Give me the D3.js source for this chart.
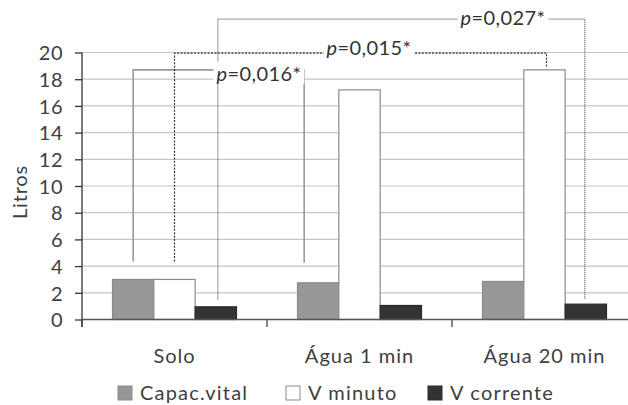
<!DOCTYPE html>
<html><head><meta charset="utf-8">
<script src="https://cdn.jsdelivr.net/npm/d3@7"></script>
<style>html,body{margin:0;padding:0;background:#fff;overflow:hidden}</style>
</head><body>
<svg id="c" width="628" height="405"></svg>
<script>
const categories = ["Solo", "Água 1 min", "Água 20 min"];
const seriesNames = ["Capac.vital", "V minuto", "V corrente"];
const capacVital = [3.0, 2.75, 2.85];
const vMinuto = [3.0, 17.2, 18.7];
const vCorrente = [0.95, 1.05, 1.15];
const yTicks = [0, 2, 4, 6, 8, 10, 12, 14, 16, 18, 20];
const seriesValues = [capacVital, vMinuto, vCorrente];
const seriesColors = ["#979797", "#ffffff", "#333333"];
const seriesStroke = ["#8a8a8a", "#8a8a8a", "#2a2a2a"];
// significance brackets: endpoints given as category/series, heights in litres
const brackets = [
  {label: "0,016*", from: [0, 0, 0], to: [1, 0, -14], level: 18.7, bottomFrom: 4.35, bottomTo: 4.25, style: "solid"},
  {label: "0,015*", from: [0, 1, 0], to: [2, 1, 2], level: 19.95, bottomFrom: 4.35, bottomTo: 18.95, style: "dash"},
  {label: "0,027*", from: [0, 2, 2], to: [2, 2, -1], level: 22.5, bottomFrom: 1.5, bottomTo: 1.5, style: "dot"}
];
const labelCenters = [259, 369, 503];
const labelDy = [11, 2, 6];

const svg = d3.select("#c");
const font = "Lato, 'Open Sans', sans-serif";
const textFill = "#404040";
const x0 = d3.scaleBand().domain(categories).range([82, 637]).padding(0);
const x1 = d3.scaleBand().domain(seriesNames).range([30.5, 154.5]).padding(0);
const y = d3.scaleLinear().domain([0, 20]).range([319.5, 52.5]);

// gridlines
svg.append("g").selectAll("line").data(yTicks.filter(d => d > 0)).join("line")
  .attr("x1", 82).attr("x2", 637).attr("y1", d => y(d)).attr("y2", d => y(d))
  .attr("stroke", "#c6c6c6").attr("stroke-width", 1.2);

// bars
const groups = svg.append("g").selectAll("g").data(categories).join("g")
  .attr("transform", d => `translate(${x0(d)},0)`);
groups.selectAll("rect").data((c, i) => seriesNames.map((s, j) => ({s, j, v: seriesValues[j][i]}))).join("rect")
  .attr("x", d => x1(d.s)).attr("width", x1.bandwidth())
  .attr("y", d => y(d.v)).attr("height", d => y(0) - y(d.v))
  .attr("fill", d => seriesColors[d.j]).attr("stroke", d => seriesStroke[d.j]).attr("stroke-width", 1.2);

// axes
const yAxis = d3.axisLeft(y).tickValues(yTicks).tickSize(7).tickPadding(12);
const gy = svg.append("g").attr("transform", "translate(82,0)").call(yAxis);
gy.select(".domain").remove();
gy.selectAll(".tick line").attr("stroke", "#333").attr("stroke-width", 1.3);
gy.selectAll(".tick text").attr("font-family", font).attr("font-size", 20).attr("fill", textFill)
  .attr("letter-spacing", 0.5).attr("dy", "0.36em");
svg.append("line").attr("x1", 82).attr("x2", 82).attr("y1", y(20)).attr("y2", 327).attr("stroke", "#333").attr("stroke-width", 1.3);
svg.append("line").attr("x1", 82).attr("x2", 637).attr("y1", y(0)).attr("y2", y(0)).attr("stroke", "#555").attr("stroke-width", 1.5);
svg.append("g").selectAll("line").data(categories).join("line")
  .attr("x1", d => x0(d)).attr("x2", d => x0(d)).attr("y1", y(0)).attr("y2", 327)
  .attr("stroke", "#444").attr("stroke-width", 1.3);
svg.append("g").selectAll("text").data(categories).join("text")
  .attr("x", d => x0(d) + x0.bandwidth() / 2).attr("y", 363)
  .attr("text-anchor", "middle").attr("font-family", font).attr("font-size", 20).attr("fill", textFill)
  .attr("letter-spacing", 1)
  .text(d => d);
svg.append("text").attr("transform", "translate(27,192) rotate(-90)").attr("text-anchor", "middle")
  .attr("font-family", font).attr("font-size", 20).attr("fill", textFill).attr("letter-spacing", 0.8).text("Litros");

// brackets
const bx = e => x0(categories[e[0]]) + x1(seriesNames[e[1]]) + x1.bandwidth() / 2 + e[2];
const styles = {
  solid: {stroke: "#999", dash: null, w: 1.6},
  dash: {stroke: "#333", dash: "2,1.4", w: 1.2},
  dot: {stroke: "#555", dash: "1,1", w: 1.2}
};
brackets.forEach((b, i) => {
  const st = styles[b.style];
  const xa = bx(b.from), xb = bx(b.to), yl = y(b.level);
  svg.append("path")
    .attr("d", `M${xa},${y(b.bottomFrom)}V${yl}H${xb}V${y(b.bottomTo)}`)
    .attr("fill", "none").attr("stroke", st.stroke).attr("stroke-width", st.w)
    .attr("stroke-dasharray", st.dash);
});
brackets.forEach((b, i) => {
  const yl = y(b.level);
  const g = svg.append("g");
  const bg = g.append("rect").attr("fill", "#fff");
  const t = g.append("text").attr("x", labelCenters[i]).attr("y", yl + labelDy[i])
    .attr("text-anchor", "middle").attr("font-family", font).attr("font-size", 20).attr("fill", "#333")
    .attr("letter-spacing", 0.4);
  t.append("tspan").attr("font-style", "italic").text("p");
  t.append("tspan").text("=" + b.label);
  const bb = t.node().getBBox();
  bg.attr("x", bb.x - 3).attr("y", bb.y + 1).attr("width", bb.width + 6).attr("height", bb.height - 2);
});

// legend
const legendX = [118, 286, 428];
const lg = svg.append("g").selectAll("g").data(seriesNames).join("g")
  .attr("transform", (d, i) => `translate(${legendX[i]},386)`);
lg.append("rect").attr("width", 14).attr("height", 14)
  .attr("fill", (d, i) => seriesColors[i]).attr("stroke", (d, i) => seriesStroke[i]).attr("stroke-width", 1);
lg.append("text").attr("x", 22).attr("y", 14).attr("font-family", font).attr("font-size", 20).attr("fill", textFill)
  .attr("letter-spacing", 1.2).text(d => d);
</script>
</body></html>
